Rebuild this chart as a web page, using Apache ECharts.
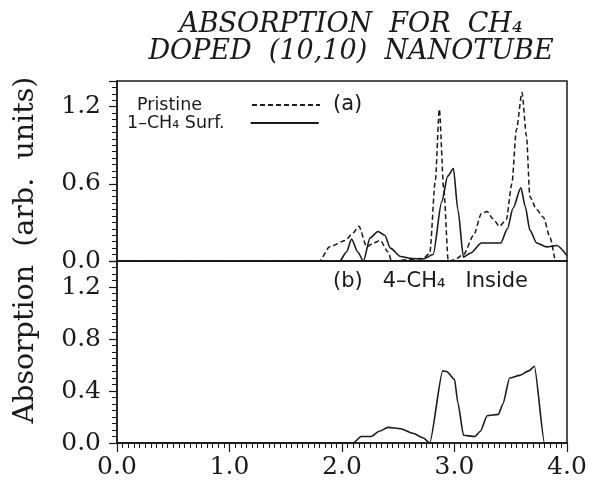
<!DOCTYPE html>
<html>
<head>
<meta charset="utf-8">
<script src="https://cdn.jsdelivr.net/npm/echarts@6/dist/echarts.min.js"></script>
<style>html,body{margin:0;padding:0;background:#fff;}#c{width:590px;height:481px;}</style>
</head>
<body>
<div id="c"></div>
<script>
// ---- data ----
const xTickLabels = ['0.0', '1.0', '2.0', '3.0', '4.0'];

const pristineX = [0, 1.80, 1.89, 2.03, 2.10, 2.15, 2.22, 2.28, 2.34, 2.41, 2.44, 2.72, 2.78, 2.83, 2.865, 2.905, 2.945, 3.00, 3.08, 3.17, 3.24, 3.29, 3.34, 3.40, 3.46, 3.51, 3.55, 3.60, 3.64, 3.67, 3.73, 3.79, 3.85, 3.90, 4.00];
const pristineY = [0, 0, 0.11, 0.16, 0.22, 0.27, 0.11, 0.14, 0.16, 0.07, 0, 0.02, 0.06, 0.63, 1.18, 0.55, 0, 0.01, 0.05, 0.20, 0.37, 0.385, 0.33, 0.27, 0.32, 0.60, 1.02, 1.31, 0.97, 0.50, 0.40, 0.34, 0.18, 0, 0];

const surfX = [0, 1.98, 2.04, 2.085, 2.14, 2.19, 2.25, 2.32, 2.38, 2.43, 2.52, 2.62, 2.72, 2.81, 2.886, 2.94, 2.99, 3.03, 3.08, 3.14, 3.24, 3.32, 3.41, 3.47, 3.52, 3.59, 3.63, 3.67, 3.73, 3.82, 3.91, 4.00];
const surfY = [0, 0, 0.07, 0.17, 0.07, 0, 0.18, 0.23, 0.20, 0.10, 0.035, 0.02, 0.015, 0.05, 0.46, 0.66, 0.72, 0.40, 0.03, 0.06, 0.14, 0.14, 0.14, 0.25, 0.41, 0.57, 0.42, 0.24, 0.14, 0.11, 0.12, 0.04];

const insideX = [0, 2.10, 2.17, 2.26, 2.33, 2.41, 2.52, 2.63, 2.72, 2.78, 2.895, 2.93, 3.00, 3.03, 3.08, 3.18, 3.23, 3.29, 3.39, 3.43, 3.49, 3.58, 3.66, 3.71, 3.80, 4.00];
const insideY = [0, 0, 0.05, 0.05, 0.09, 0.12, 0.11, 0.075, 0.04, 0, 0.555, 0.55, 0.49, 0.31, 0.06, 0.05, 0.09, 0.21, 0.22, 0.30, 0.50, 0.52, 0.555, 0.59, 0, 0];

const seriesNames = ['Pristine', '1–CH₄ Surf.', '4–CH₄ Inside'];
const titleLines = ['ABSORPTION  FOR  CH₄', 'DOPED  (10,10)  NANOTUBE'];
const yAxisTitle = 'Absorption  (arb.  units)';
const panelLabels = ['(a)', '(b)   4–CH₄   Inside'];

// ---- chart ----
const pairs = (xs, ys) => xs.map((x, i) => [x, ys[i]]);
const ink = '#1a1a1a';
const serif = '"DejaVu Serif", serif';
const sans = '"DejaVu Sans", sans-serif';

const chart = echarts.init(document.getElementById('c'), null, {renderer: 'canvas'});

const xAxisBase = {
  type: 'value', min: 0, max: 4, interval: 1,
  splitLine: {show: false},
  axisLine: {show: true, onZero: false, lineStyle: {color: ink, width: 1.5}}
};
const yAxisBase = {
  type: 'value', min: 0, max: 1.4,
  splitLine: {show: false},
  axisLine: {show: true, lineStyle: {color: ink, width: 1.5}},
  axisTick: {show: true, inside: false, length: 8, lineStyle: {color: ink, width: 1.2}},
  minorTick: {show: true, length: 5, lineStyle: {color: ink, width: 1}},
  axisLabel: {
    color: ink, fontFamily: serif, fontSize: 25, margin: 16,
    showMaxLabel: false,
    formatter: v => v.toFixed(1)
  }
};

const legendBase = {
  orient: 'vertical', padding: 0, align: 'right', itemWidth: 68, itemHeight: 12,
  selectedMode: false, itemStyle: {opacity: 0, borderWidth: 0},
  formatter: n => '{t|' + n + '}'
};

const option = {
  animation: false,
  backgroundColor: '#fff',
  title: {
    text: titleLines.join('\n'),
    left: 346, top: 6, textAlign: 'center',
    textStyle: {fontFamily: serif, fontStyle: 'italic', fontWeight: 'normal', fontSize: 27, lineHeight: 27, color: ink}
  },
  legend: [
    Object.assign({}, legendBase, {
      data: [seriesNames[0]], left: 137, top: 96,
      textStyle: {rich: {t: {fontFamily: sans, fontSize: 17.5, color: ink, padding: [0, 45, 0, 0]}}}
    }),
    Object.assign({}, legendBase, {
      data: [seriesNames[1]], left: 127, top: 114,
      textStyle: {rich: {t: {fontFamily: sans, fontSize: 17.5, color: ink, padding: [0, 21, 0, 0]}}}
    })
  ],
  grid: [
    {left: 117, right: 23, top: 81, height: 180, show: true, borderColor: ink, borderWidth: 1.5, containLabel: false},
    {left: 117, right: 23, top: 261, height: 182, show: true, borderColor: ink, borderWidth: 1.5, containLabel: false}
  ],
  xAxis: [
    Object.assign({}, xAxisBase, {
      gridIndex: 0,
      axisTick: {show: false}, axisLabel: {show: false}
    }),
    Object.assign({}, xAxisBase, {
      gridIndex: 1,
      axisTick: {show: true, inside: false, length: 9, lineStyle: {color: ink, width: 1.2}},
      minorTick: {show: true, splitNumber: 20, length: 5, lineStyle: {color: ink, width: 1}},
      axisLabel: {
        color: ink, fontFamily: serif, fontSize: 25, margin: 12,
        formatter: v => xTickLabels[Math.round(v)]
      }
    })
  ],
  yAxis: [
    Object.assign({}, yAxisBase, {gridIndex: 0, interval: 0.6, minorTick: Object.assign({}, yAxisBase.minorTick, {splitNumber: 12})}),
    Object.assign({}, yAxisBase, {gridIndex: 1, interval: 0.4, minorTick: Object.assign({}, yAxisBase.minorTick, {splitNumber: 8})})
  ],
  graphic: [
    {
      type: 'text', x: 26, y: 250, rotation: Math.PI / 2,
      style: {text: yAxisTitle, font: '28.5px "DejaVu Serif", serif', fill: ink, textAlign: 'center', textVerticalAlign: 'middle'}
    },
    {
      type: 'text', x: 333, y: 105,
      style: {text: panelLabels[0], font: '21px "DejaVu Sans", sans-serif', fill: ink, textAlign: 'left', textVerticalAlign: 'middle'}
    },
    {
      type: 'text', x: 333, y: 282,
      style: {text: panelLabels[1], font: '21px "DejaVu Sans", sans-serif', fill: ink, textAlign: 'left', textVerticalAlign: 'middle'}
    }
  ],
  series: [
    {
      name: seriesNames[0], type: 'line', xAxisIndex: 0, yAxisIndex: 0,
      data: pairs(pristineX, pristineY), showSymbol: false, symbol: 'none',
      smooth: 0.25, smoothMonotone: 'x',
      itemStyle: {color: ink},
      lineStyle: {color: ink, width: 1.5, type: [5, 3]}
    },
    {
      name: seriesNames[1], type: 'line', xAxisIndex: 0, yAxisIndex: 0,
      data: pairs(surfX, surfY), showSymbol: false, symbol: 'none',
      smooth: 0.25, smoothMonotone: 'x',
      itemStyle: {color: ink},
      lineStyle: {color: ink, width: 1.6, type: 'solid'}
    },
    {
      name: seriesNames[2], type: 'line', xAxisIndex: 1, yAxisIndex: 1,
      data: pairs(insideX, insideY), showSymbol: false, symbol: 'none',
      smooth: 0.2, smoothMonotone: 'x',
      itemStyle: {color: ink},
      lineStyle: {color: ink, width: 1.6, type: 'solid'}
    }
  ]
};
chart.setOption(option);
</script>
</body>
</html>
